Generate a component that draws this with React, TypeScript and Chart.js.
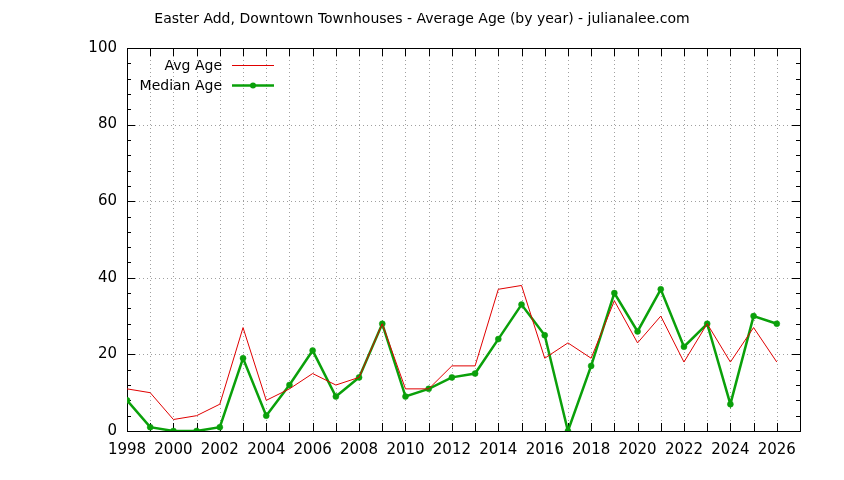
import React, { useEffect, useRef } from 'react';
import { Chart, registerables } from 'chart.js';

Chart.register(...registerables);

// years on the x axis and the two series
const years = [
  1998, 1999, 2000, 2001, 2002, 2003, 2004, 2005, 2006, 2007, 2008, 2009, 2010, 2011, 2012,
  2013, 2014, 2015, 2016, 2017, 2018, 2019, 2020, 2021, 2022, 2023, 2024, 2025, 2026,
];
const avgAge = [11, 10, 3, 4, 7, 27, 8, 11, 15, 12, 14, 28, 11, 11, 17, 17, 37, 38, 19, 23, 19, 34, 23, 30, 18, 28, 18, 27, 18];
const medianAge = [8, 1, 0, 0, 1, 19, 4, 12, 21, 9, 14, 28, 9, 11, 14, 15, 24, 33, 25, 0, 17, 36, 26, 37, 22, 28, 7, 30, 28];

const title = 'Easter Add, Downtown Townhouses - Average Age (by year) - julianalee.com';
const xMin = 1998;
const xMax = 2027;
const yTicks = [0, 20, 40, 60, 80, 100];

const RED = '#e00000';
const GREEN = '#0aa00a';
const FONT = '"DejaVu Sans", sans-serif';

// gnuplot look: dotted grid, boxed border, inward ticks, title, legend
const gnuplotFrame = {
  id: 'gnuplotFrame',
  beforeDatasetsDraw(chart: any) {
    const { ctx, chartArea: a, scales } = chart;
    const xs = scales.x;
    const ys = scales.y;
    ctx.save();
    ctx.strokeStyle = '#a0a0a0';
    ctx.lineWidth = 1;
    ctx.setLineDash([1, 3]);
    for (let v = xMin + 1; v < xMax; v++) {
      const px = Math.round(xs.getPixelForValue(v)) + 0.5;
      ctx.beginPath();
      ctx.moveTo(px, a.top);
      ctx.lineTo(px, a.bottom);
      ctx.stroke();
    }
    yTicks.slice(1, -1).forEach((v) => {
      const py = Math.round(ys.getPixelForValue(v)) + 0.5;
      ctx.beginPath();
      ctx.moveTo(a.left, py);
      ctx.lineTo(a.right, py);
      ctx.stroke();
    });
    ctx.setLineDash([]);
    ctx.strokeStyle = '#000';
    // ticks
    ctx.beginPath();
    for (let v = xMin; v < xMax; v++) {
      const px = Math.round(xs.getPixelForValue(v)) + 0.5;
      ctx.moveTo(px, a.bottom);
      ctx.lineTo(px, a.bottom - 8);
      ctx.moveTo(px, a.top);
      ctx.lineTo(px, a.top + 8);
    }
    for (let v = 0; v <= 100; v += 4) {
      const len = v % 20 === 0 ? 8 : 4;
      const py = Math.round(ys.getPixelForValue(v)) + 0.5;
      ctx.moveTo(a.left, py);
      ctx.lineTo(a.left + len, py);
      ctx.moveTo(a.right, py);
      ctx.lineTo(a.right - len, py);
    }
    ctx.stroke();
    ctx.strokeRect(Math.round(a.left) + 0.5, Math.round(a.top) + 0.5, Math.round(a.right - a.left), Math.round(a.bottom - a.top));
    ctx.restore();
  },
  afterDraw(chart: any) {
    const { ctx } = chart;
    const sets = chart.data.datasets;
    ctx.save();
    ctx.fillStyle = '#000';
    ctx.font = `14px ${FONT}`;
    ctx.textAlign = 'center';
    ctx.textBaseline = 'middle';
    ctx.fillText(title, 422, 19);
    ctx.textAlign = 'right';
    sets.forEach((ds: any, i: number) => {
      const y = 65 + i * 20;
      ctx.fillStyle = '#000';
      ctx.fillText(ds.label, 222, y + 1);
      ctx.strokeStyle = ds.borderColor;
      ctx.lineWidth = ds.borderWidth;
      ctx.beginPath();
      ctx.moveTo(232, y + 0.5);
      ctx.lineTo(274, y + 0.5);
      ctx.stroke();
      if (ds.pointRadius > 0) {
        ctx.fillStyle = ds.pointBackgroundColor;
        ctx.beginPath();
        ctx.arc(253, y + 0.5, ds.pointRadius, 0, Math.PI * 2);
        ctx.fill();
      }
    });
    ctx.restore();
  },
};

const App: React.FC = () => {
  const canvasRef = useRef<HTMLCanvasElement>(null);

  useEffect(() => {
    if (!canvasRef.current) return;
    const chart = new Chart(canvasRef.current, {
      type: 'line',
      data: {
        datasets: [
          {
            label: 'Avg Age',
            data: years.map((x, i) => ({ x, y: avgAge[i] })),
            borderColor: RED,
            borderWidth: 1,
            pointRadius: 0,
            tension: 0,
          },
          {
            label: 'Median Age',
            data: years.map((x, i) => ({ x, y: medianAge[i] })),
            borderColor: GREEN,
            borderWidth: 2.5,
            pointRadius: 3,
            pointBorderWidth: 0.5,
            pointBackgroundColor: GREEN,
            pointBorderColor: GREEN,
            tension: 0,
          },
        ],
      },
      options: {
        animation: false,
        responsive: false,
        devicePixelRatio: 1,
        layout: { padding: { top: 48, right: 44, left: 0, bottom: 0 } },
        plugins: {
          legend: { display: false },
          tooltip: { enabled: false },
        },
        scales: {
          x: {
            type: 'linear',
            min: xMin,
            max: xMax,
            grid: { display: false, drawTicks: false },
            border: { display: false },
            afterFit: (s: any) => {
              s.height = 49;
            },
            ticks: {
              stepSize: 1,
              autoSkip: false,
              maxRotation: 0,
              padding: 10,
              color: '#000',
              font: { family: FONT, size: 15 },
              callback: (v: any) => (v % 2 === 0 && v <= 2026 ? String(v) : ''),
            },
          },
          y: {
            min: 0,
            max: 100,
            grid: { display: false, drawTicks: false },
            border: { display: false },
            afterFit: (s: any) => {
              s.width = 127;
            },
            ticks: {
              stepSize: 20,
              padding: 10,
              color: '#000',
              font: { family: FONT, size: 15 },
            },
          },
        },
      },
      plugins: [gnuplotFrame],
    });
    return () => chart.destroy();
  }, []);

  return (
    <div style={{ position: 'absolute', left: 0, top: 0, width: 844, height: 480, background: '#fff' }}>
      <canvas ref={canvasRef} width={844} height={480} />
    </div>
  );
};

export default App;
